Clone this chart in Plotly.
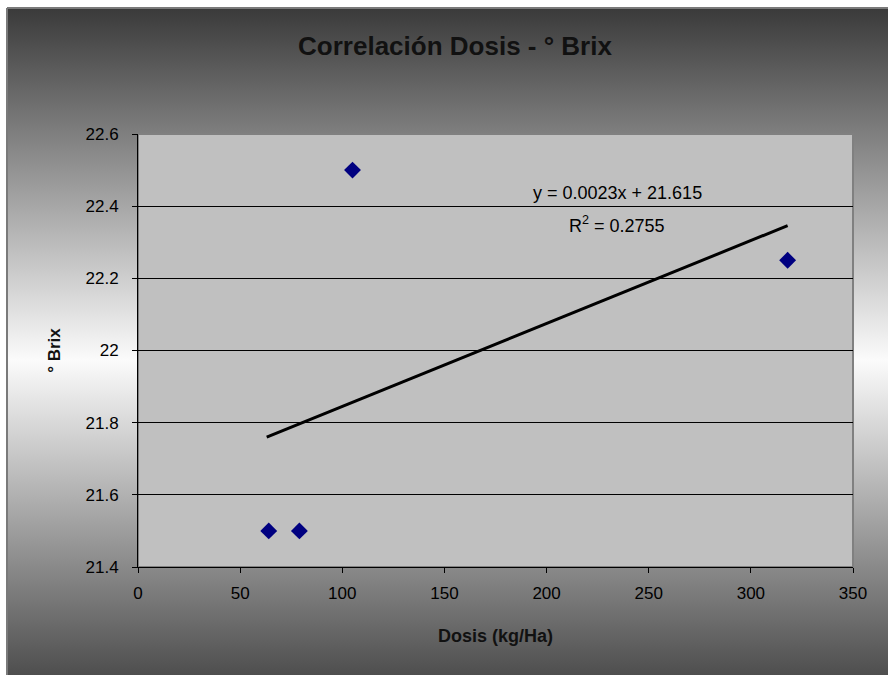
import base64
import plotly.graph_objects as go

# ---- data ----
dosis = [64, 79, 105, 318]
brix = [21.5, 21.5, 22.5, 22.25]
trend_x = [63, 318]
trend_y = [21.760, 22.346]
x_ticks = [0, 50, 100, 150, 200, 250, 300, 350]
y_ticks = [21.4, 21.6, 21.8, 22.0, 22.2, 22.4, 22.6]
y_tick_labels = ["21.4", "21.6", "21.8", "22", "22.2", "22.4", "22.6"]
title_text = "Correlación Dosis - ° Brix"
x_title = "Dosis (kg/Ha)"
y_title = "° Brix"
eq_text = "y = 0.0023x + 21.615"
r2_text = "R<sup>2</sup> = 0.2755"

# ---- layout geometry (pixels) ----
W, H = 888, 675
L, R, T, B = 138, 853, 134, 567
pw, ph = R - L, B - T


def px_x(p):
    return (p - L) / pw


def px_y(p):
    return (B - p) / ph


FONT = "Liberation Sans, Arial, sans-serif"

svg = (
    '<svg xmlns="http://www.w3.org/2000/svg" width="100" height="100" '
    'viewBox="0 0 100 100" preserveAspectRatio="none">'
    '<defs><linearGradient id="g" x1="0" y1="0" x2="0" y2="1">'
    '<stop offset="0" stop-color="#3a3a3a"/>'
    '<stop offset="0.5" stop-color="#fbfbfb"/>'
    '<stop offset="1" stop-color="#3a3a3a"/>'
    '</linearGradient></defs>'
    '<rect width="100" height="100" fill="url(#g)"/></svg>'
)
svg_uri = "data:image/svg+xml;base64," + base64.b64encode(svg.encode()).decode()

fig = go.Figure()
fig.add_trace(go.Scatter(
    x=trend_x, y=trend_y, mode="lines",
    line=dict(color="black", width=3), showlegend=False, hoverinfo="skip",
))
fig.add_trace(go.Scatter(
    x=dosis, y=brix, mode="markers",
    marker=dict(symbol="diamond", size=13, color="#000080",
                line=dict(width=0)),
    showlegend=False,
))

fig.add_layout_image(dict(
    source=svg_uri, xref="paper", yref="paper",
    x=px_x(7), y=px_y(8), sizex=(W + 20 - 7) / pw, sizey=(712 - 8) / ph,
    xanchor="left", yanchor="top", sizing="stretch", layer="below",
))

# plot area fill
fig.add_shape(type="rect", xref="paper", yref="paper", x0=0, x1=1, y0=0, y1=1,
              fillcolor="#C0C0C0", line=dict(color="#808080", width=2),
              layer="below")
# chart border
fig.add_shape(type="line", xref="paper", yref="paper",
              x0=px_x(7), x1=px_x(W + 10), y0=px_y(8), y1=px_y(8),
              line=dict(color="#7a7a7a", width=2), layer="below")
fig.add_shape(type="line", xref="paper", yref="paper",
              x0=px_x(7), x1=px_x(7), y0=px_y(8), y1=px_y(H + 10),
              line=dict(color="#7a7a7a", width=2), layer="below")

fig.add_annotation(x=234.5, y=22.437, xref="x", yref="y", text=eq_text,
                   showarrow=False, font=dict(family=FONT, size=18, color="black"))
fig.add_annotation(x=234.5, y=22.35, xref="x", yref="y", text=r2_text,
                   showarrow=False, font=dict(family=FONT, size=18, color="black"))

fig.update_layout(
    width=W, height=H,
    margin=dict(l=L, r=W - R, t=T, b=H - B, autoexpand=False),
    paper_bgcolor="white",
    plot_bgcolor="#C0C0C0",
    title=dict(text=title_text, x=455 / W, xanchor="center",
               y=1 - 46 / H, yanchor="middle",
               font=dict(family=FONT, size=26, color="#111111", weight="bold")),
    font=dict(family=FONT, size=17, color="black"),
    xaxis=dict(
        range=[0, 350], tickvals=x_ticks, ticks="outside", ticklen=5,
        tickcolor="black", showline=True, linecolor="black", linewidth=1,
        showgrid=False, zeroline=False, ticklabelstandoff=6,
        title=dict(text=x_title, standoff=26,
                   font=dict(family=FONT, size=18, weight="bold", color="#111111")),
    ),
    yaxis=dict(
        range=[21.4, 22.6], tickvals=y_ticks, ticktext=y_tick_labels,
        ticks="outside", ticklen=5, tickcolor="black",
        showline=True, linecolor="black", linewidth=1, ticklabelstandoff=10,
        showgrid=True, gridcolor="black", gridwidth=1, zeroline=False,
        title=dict(text=y_title, standoff=20,
                   font=dict(family=FONT, size=17, weight="bold", color="#111111")),
    ),
)

fig.write_html("out.html")
